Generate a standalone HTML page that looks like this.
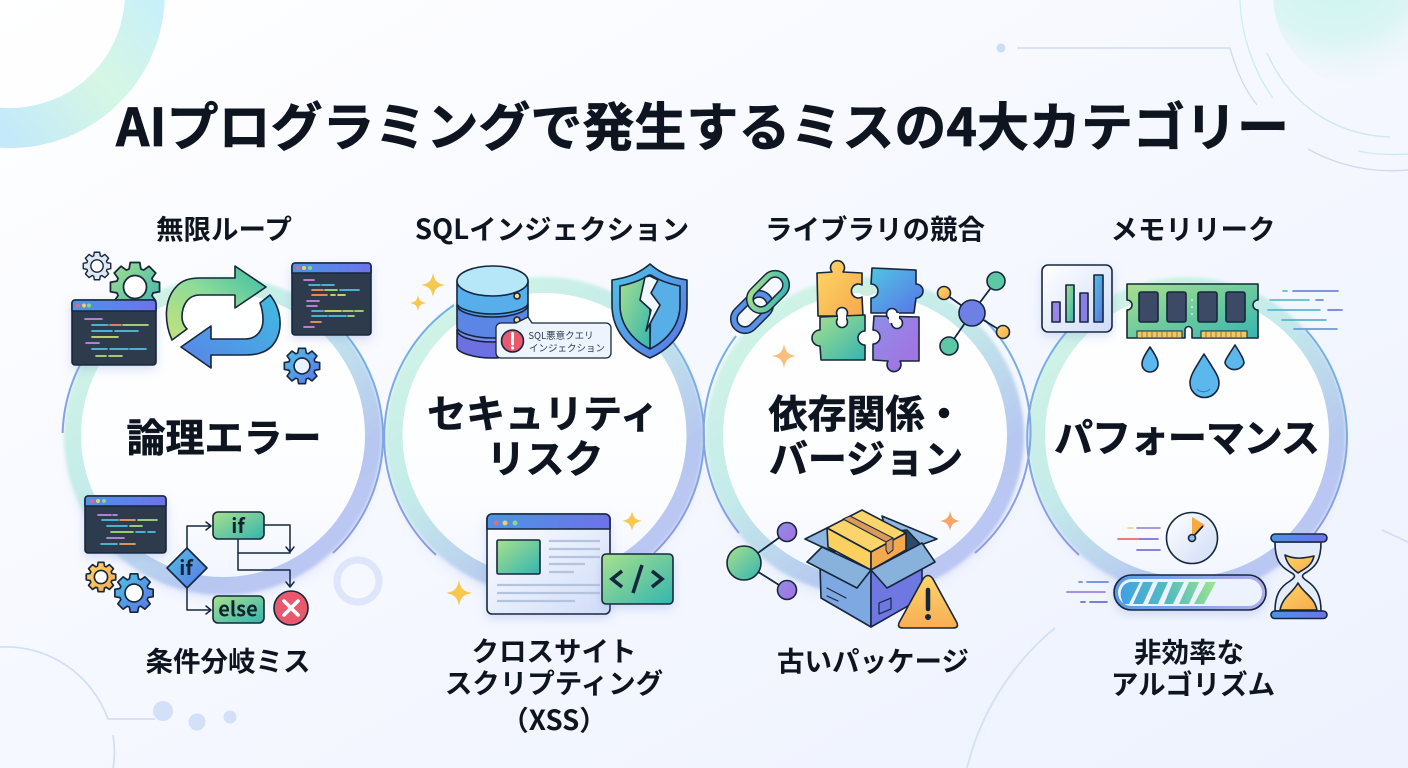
<!DOCTYPE html>
<html lang="ja"><head><meta charset="utf-8"><title>AIプログラミングで発生するミスの4大カテゴリー</title>
<style>
html,body{margin:0;padding:0;background:#f4f7fe}
svg{display:block}
text{font-family:"Noto Sans CJK JP","Liberation Sans",sans-serif;font-weight:700;fill:#0e1520;text-anchor:middle}
.t{font-size:27.5px}.c{font-size:39px;stroke:#0e1520;stroke-width:.6}
.o{stroke:#16263d;stroke-width:1.6;stroke-linejoin:round;stroke-linecap:round}
.l{fill:none;stroke-linecap:round;stroke-width:1.7}
</style></head><body>
<svg width="1408" height="768" viewBox="0 0 1408 768" xmlns="http://www.w3.org/2000/svg">
<defs>
<linearGradient id="bg" x1="0" y1="0" x2="1" y2="1"><stop offset="0" stop-color="#fff"/><stop offset=".4" stop-color="#f7f9ff"/><stop offset="1" stop-color="#edf2fe"/></linearGradient>
<linearGradient id="rg" gradientUnits="userSpaceOnUse" x1="0" y1="130" x2="150" y2="0"><stop offset="0" stop-color="#c3e9fa"/><stop offset=".55" stop-color="#d6f7e4"/><stop offset="1" stop-color="#c8f0f8"/></linearGradient>
<linearGradient id="band" x1="0" y1=".1" x2=".7" y2="1"><stop offset="0" stop-color="#d3f6e4"/><stop offset=".45" stop-color="#c4ebea"/><stop offset=".8" stop-color="#b6c8f0"/><stop offset="1" stop-color="#bcc6f4"/></linearGradient>
<linearGradient id="arcg" x1="0" y1="0" x2="0" y2="1"><stop offset="0" stop-color="#74b3e2"/><stop offset="1" stop-color="#8c9ce0"/></linearGradient>
<linearGradient id="white" x1="0" y1="0" x2="0" y2="1"><stop offset="0" stop-color="#fff"/><stop offset=".7" stop-color="#fcfdff"/><stop offset="1" stop-color="#f2f6ff"/></linearGradient>
<linearGradient id="gt" x1="0" y1="0" x2="1" y2="1"><stop offset="0" stop-color="#a8e08c"/><stop offset="1" stop-color="#35b5b0"/></linearGradient>
<linearGradient id="gb" x1="0" y1="0" x2="1" y2="1"><stop offset="0" stop-color="#4fc5e2"/><stop offset="1" stop-color="#5a72e8"/></linearGradient>
<linearGradient id="gy" x1="0" y1="0" x2="1" y2="1"><stop offset="0" stop-color="#ffd766"/><stop offset="1" stop-color="#f5a94e"/></linearGradient>
<linearGradient id="gyv" x1="0" y1="0" x2="0" y2="1"><stop offset="0" stop-color="#fcd667"/><stop offset="1" stop-color="#f9ad56"/></linearGradient>
<linearGradient id="gp" x1="0" y1="0" x2="1" y2="1"><stop offset="0" stop-color="#8f8ee8"/><stop offset="1" stop-color="#a56ee0"/></linearGradient>
<linearGradient id="bar" x1="0" y1="0" x2="1" y2="0"><stop offset="0" stop-color="#4b95e6"/><stop offset="1" stop-color="#6e72ea"/></linearGradient>
<linearGradient id="frame" x1="0" y1="0" x2="1" y2="0"><stop offset="0" stop-color="#5a9ae6"/><stop offset="1" stop-color="#b0aeea"/></linearGradient>
<linearGradient id="pale" x1="0" y1="0" x2="1" y2="1"><stop offset="0" stop-color="#fff"/><stop offset="1" stop-color="#cfdcf8"/></linearGradient>
<linearGradient id="arrow1" x1="0" y1="1" x2="1" y2="0"><stop offset="0" stop-color="#c5e27c"/><stop offset=".5" stop-color="#8fdc98"/><stop offset="1" stop-color="#3bbca4"/></linearGradient>
<linearGradient id="arrow2" x1="1" y1="0" x2="0" y2="1"><stop offset="0" stop-color="#3fbde0"/><stop offset="1" stop-color="#5a82e8"/></linearGradient>
<linearGradient id="stripe" gradientUnits="userSpaceOnUse" x1="1120" y1="606" x2="1215" y2="581"><stop offset="0" stop-color="#3f9ee6"/><stop offset=".5" stop-color="#52bcc0"/><stop offset="1" stop-color="#a0e48c"/></linearGradient>
<radialGradient id="blob" cx=".35" cy=".3" r=".75"><stop offset="0" stop-color="#c8f5ec"/><stop offset=".6" stop-color="#dbf5f4"/><stop offset="1" stop-color="#f3f6fe" stop-opacity="0"/></radialGradient>
<filter id="b2" x="-20%" y="-20%" width="140%" height="140%"><feGaussianBlur stdDeviation="1.5"/></filter>
<filter id="b8" x="-20%" y="-20%" width="140%" height="140%"><feGaussianBlur stdDeviation="7"/></filter>
<filter id="sh" x="-20%" y="-20%" width="140%" height="150%"><feDropShadow dx="0" dy="4" stdDeviation="5" flood-color="#7d93d8" flood-opacity=".28"/></filter>
<path id="gear" d="M7.23,-2.35 9.82,-1.91 9.82,1.91 7.23,2.35 6.77,3.45 8.29,5.59 5.59,8.29 3.45,6.77 2.35,7.23 1.91,9.82 -1.91,9.82 -2.35,7.23 -3.45,6.77 -5.59,8.29 -8.29,5.59 -6.77,3.45 -7.23,2.35 -9.82,1.91 -9.82,-1.91 -7.23,-2.35 -6.77,-3.45 -8.29,-5.59 -5.59,-8.29 -3.45,-6.77 -2.35,-7.23 -1.91,-9.82 1.91,-9.82 2.35,-7.23 3.45,-6.77 5.59,-8.29 8.29,-5.59 6.77,-3.45Z" stroke="#16263d" stroke-linejoin="round"/>
<path id="spark" d="M0,-10C1.4,-3.2 3.2,-1.4 10,0C3.2,1.4 1.4,3.2 0,10C-1.4,3.2 -3.2,1.4 -10,0C-3.2,-1.4 -1.4,-3.2 0,-10Z"/>
<g id="disc">
<circle cx="0" cy="446" r="150" fill="#aebff0" opacity=".5" filter="url(#b8)"/>
<circle cx="0" cy="436" r="159" fill="url(#band)" filter="url(#b2)"/>
<circle cx="0" cy="435" r="142" fill="url(#white)"/>
</g>
</defs>

<rect width="1408" height="768" fill="url(#bg)"/>

<!-- background decoration -->
<circle cx="10" cy="-7" r="135" fill="none" stroke="url(#rg)" stroke-width="40"/>
<circle cx="1365" cy="-5" r="92" fill="url(#blob)"/>
<g fill="none" stroke-width="1.4">
<path d="M1240,0C1241,35 1254,72 1273,98" stroke="#cfeeee"/>
<path d="M1017,48H1230C1236,70 1245,90 1257,105" stroke="#cfdcf3"/>
<path d="M1267,53C1290,105 1335,135 1390,137" stroke="#cfe8ee"/>
<path d="M1308,149C1340,167 1375,173 1408,170" stroke="#d8d6f3"/>
<path d="M1358,151C1375,155 1392,155 1408,154" stroke="#cfeaf0"/>
<path d="M0,647C50,645 92,675 108,719H155" stroke="#d3dff6" stroke-width="1.8"/>
<path d="M113,735C115,748 115,758 113,768" stroke="#d3dff6" stroke-width="1.8"/>
<path d="M1055,628C1010,665 980,715 967,768" stroke="#d4e0f5" stroke-width="1.8"/>
<path d="M1382,530L1408,542" stroke="#d4e0f5" stroke-width="1.8"/>
</g>
<circle cx="1001" cy="48" r="4.5" fill="#c9dcf8"/>
<g fill="#d3e0f8"><circle cx="163" cy="711" r="10"/><circle cx="197" cy="722" r="8.5"/><circle cx="230" cy="717" r="6.5"/></g>
<circle cx="358" cy="581" r="21" fill="none" stroke="#dde6fb" stroke-width="7"/>

<!-- discs -->
<use href="#disc" x="223"/><use href="#disc" x="544.5"/><use href="#disc" x="865"/><use href="#disc" x="1187"/>
<g fill="none" stroke="url(#arcg)" stroke-width="2">
<path d="M113,321A160,160 0 0 0 62.6,433"/>
<path d="M323,312A160,160 0 0 1 333,553"/>
<path d="M454,305A160,160 0 0 0 436,555"/>
<path d="M663,330A160,160 0 0 1 654,553"/>
<path d="M736,336A160,160 0 0 0 739,533"/>
<path d="M985,320A160,160 0 0 1 975,553"/>
<path d="M1097,305A160,160 0 0 0 1079,555"/>
<path d="M1306,330A160,160 0 0 1 1297,553"/>
</g>

<!-- title -->
<text x="702.500" y="146" font-size="52" textLength="1173" lengthAdjust="spacingAndGlyphs" stroke="#0e1520" stroke-width=".7">AIプログラミングで発生するミスの4大カテゴリー</text>

<!-- labels -->
<text class="t" x="224" y="239">無限ループ</text>
<text class="t" x="552" y="239">SQLインジェクション</text>
<text class="t" x="875" y="239">ライブラリの競合</text>
<text class="t" x="1193" y="239">メモリリーク</text>
<text class="t" x="228" y="671">条件分岐ミス</text>
<text class="t" x="554" y="661">クロスサイト</text>
<text class="t" x="554" y="693">スクリプティング</text>
<text class="t" x="554" y="730">（XSS）</text>
<text class="t" x="873" y="671">古いパッケージ</text>
<text class="t" x="1189" y="662">非効率な</text>
<text class="t" x="1193" y="694">アルゴリズム</text>

<text class="c" x="224" y="452">論理エラー</text>
<text class="c" x="543" y="428">セキュリティ</text>
<text class="c" x="545" y="473">リスク</text>
<text class="c" x="866" y="428">依存関係・</text>
<text class="c" x="866" y="473">バージョン</text>
<text class="c" x="1187" y="452" textLength="266">パフォーマンス</text>

<!-- CIRCLE 1 ICONS -->
<g transform="translate(97,266) scale(1.4)" fill="#dfe7f5" stroke-width="1"><use href="#gear"/><circle r="4.4" fill="#fff" stroke="#16263d"/></g>
<g transform="translate(135,287) scale(2.5)" fill="url(#gt)" stroke-width=".7"><use href="#gear"/><circle r="4.6" fill="#fff" stroke="#16263d"/></g>
<g transform="translate(302,366) scale(1.8)" fill="url(#gb)" stroke-width=".9"><use href="#gear"/><circle r="4.4" fill="#eaf1ff" stroke="#16263d"/></g>
<g transform="translate(101,577) scale(1.5)" fill="url(#gy)" stroke-width="1.1"><use href="#gear"/><circle r="4.4" fill="#fff" stroke="#16263d"/></g>
<g transform="translate(134,593) scale(1.95)" fill="url(#gb)" stroke-width=".85"><use href="#gear"/><circle r="4.6" fill="#fff" stroke="#16263d"/></g>

<!-- window 1 -->
<g filter="url(#sh)"><rect class="o" x="72" y="300" width="84" height="65" rx="3" fill="#2f3a4e"/>
<path d="M72,311V303a3,3 0 0 1 3,-3h78a3,3 0 0 1 3,3V311Z" fill="url(#bar)" class="o" stroke-width="1.2"/></g>
<circle cx="78" cy="305.500" r="2" fill="#e5688a"/><circle cx="84" cy="305.500" r="2" fill="#f2cf5e"/><circle cx="89" cy="305.500" r="2" fill="#84d98a"/>
<g class="l">
<path d="M85,319H102" stroke="#c58be0"/><path d="M92,325H108" stroke="#4fc3e0"/><path d="M110,325H121" stroke="#ef8a6a"/><path d="M123,325H148" stroke="#b4e07a"/>
<path d="M92,331H112M115,331H132M133,331H138" stroke="#4fc3e0"/><path d="M92,337H118" stroke="#cde36a"/><path d="M86,343H99" stroke="#c58be0"/>
<path d="M92,349H102M103,349H107M110,349H128M130,349H146" stroke="#4fc3e0"/><path d="M96,356H106M109,356H122" stroke="#b4e07a"/>
</g>
<!-- window 2 -->
<g filter="url(#sh)"><rect class="o" x="292" y="263" width="79" height="72" rx="3" fill="#2f3a4e"/>
<path d="M292,273V266a3,3 0 0 1 3,-3h73a3,3 0 0 1 3,3V273Z" fill="url(#bar)" class="o" stroke-width="1.2"/></g>
<circle cx="298" cy="268" r="2" fill="#e5688a"/><circle cx="304" cy="268" r="2" fill="#f2cf5e"/><circle cx="310" cy="268" r="2" fill="#84d98a"/>
<g class="l">
<path d="M304,280H314M307,301H319M307,306H317M304,327H314" stroke="#c58be0"/>
<path d="M309,285H320M322,285H334M340,290H359M312,311H323M312,316H327M329,316H346" stroke="#4fc3e0"/>
<path d="M312,290H323M312,295H327M311,322H321" stroke="#ef9a5a"/>
<path d="M325,290H337M348,316H354M343,311H353M355,311H363" stroke="#a8e07a"/>
<path d="M331,295H335M338,295H345M325,311H341" stroke="#dde36a"/>
</g>
<!-- window 3 -->
<g filter="url(#sh)"><rect class="o" x="85" y="496" width="81" height="57" rx="3" fill="#2f3a4e"/>
<path d="M85,506V499a3,3 0 0 1 3,-3h75a3,3 0 0 1 3,3V506Z" fill="url(#bar)" class="o" stroke-width="1.2"/></g>
<circle cx="92" cy="501" r="2" fill="#e5688a"/><circle cx="98" cy="501" r="2" fill="#f2cf5e"/><circle cx="104" cy="501" r="2" fill="#84d98a"/>
<g class="l">
<path d="M98,515H111M113,515H117M107,538H124" stroke="#c58be0"/>
<path d="M102,520H118M107,526H127M136,532H145M148,532H155M101,544H117" stroke="#4fc3e0"/>
<path d="M120,520H135M120,544H135" stroke="#efa45a"/>
<path d="M138,520H157M130,526H142M111,532H133" stroke="#a8e07a"/>
</g>

<!-- loop arrows -->
<path class="o" stroke-width="2" fill="url(#arrow1)" d="M172,340C164,322 164,300 176,287C182,280 190,278 200,278L235,278L235,266L266,287L235,308L235,295L200,295C188,295 182,305 182,317C182,322 184,326 187,329Z"/>
<path class="o" stroke-width="2" fill="url(#arrow2)" d="M270,295C282,310 284,332 272,346C265,353 256,355 245,355L211,355L211,368L181,347L211,326L211,339L245,339C257,339 263,330 263,320C263,314 262,308 260,303Z"/>

<!-- flowchart -->
<g fill="none" stroke="#16263d" stroke-width="1.5" stroke-linejoin="round" stroke-linecap="round">
<path d="M187,548V526H211M206,522L211,526L206,530"/>
<path d="M187,588V610H211M206,606L211,610L206,614"/>
<path d="M264,525H290V552M286,547L290,552L294,547"/>
<path d="M238,539V570H290V587M286,582L290,587L294,582"/>
<path d="M238,553H290"/>
</g>
<rect class="o" x="213" y="512" width="51" height="27" rx="5" fill="url(#gt)"/>
<rect class="o" x="213" y="596" width="51" height="27" rx="5" fill="url(#gt)"/>
<path class="o" d="M187,548L207,568L187,588L167,568Z" fill="url(#gb)"/>
<text x="238" y="533" font-size="20" style="fill:#123">if</text>
<text x="238" y="616" font-size="20" style="fill:#123">else</text>
<text x="186" y="575" font-size="20" style="fill:#123">if</text>
<circle class="o" cx="291" cy="608" r="17" fill="#e8596e"/>
<path d="M284,601L298,615M298,601L284,615" stroke="#fff" stroke-width="3.6" stroke-linecap="round"/>

<!-- CIRCLE 2 ICONS -->
<g fill="#f8c84e"><use href="#spark" transform="translate(433,285) scale(1.2)"/><use href="#spark" transform="translate(418,303) scale(.8)"/><use href="#spark" transform="translate(459,593) scale(1.3)"/><use href="#spark" transform="translate(632,521) scale(1)"/></g>
<g class="o">
<path d="M457,330V347C457,353 475,358 492,358C510,358 528,353 528,347V330Z" fill="#6d70e0"/>
<ellipse cx="492.500" cy="330" rx="35.500" ry="12" fill="#7d8ee8"/>
<path d="M457,305V327C457,333 475,338 492,338C510,338 528,333 528,327V305Z" fill="#5b86e6"/>
<ellipse cx="492.500" cy="305" rx="35.500" ry="12" fill="#4f9ee8"/>
<path d="M457,281V303C457,309 475,314 492,314C510,314 528,309 528,303V281Z" fill="#58aeea"/>
<ellipse cx="492.500" cy="281" rx="35.500" ry="15" fill="#b6e7f8"/>
<circle cx="517" cy="296" r="3" fill="#f2df8a"/><circle cx="517" cy="320" r="3" fill="#f2df8a"/>
<path d="M503,323H516L528,317L532,323H606a5,5 0 0 1 5,5V353a5,5 0 0 1 -5,5H501a5,5 0 0 1 -5,-5V328a5,5 0 0 1 5,-5Z" fill="#eef4fe" stroke-width="1.3"/>
<circle cx="512.500" cy="341" r="11" fill="#e8596e"/>
</g>
<path d="M512.500,333.500V344" stroke="#fff" stroke-width="3" stroke-linecap="round"/><circle cx="512.500" cy="348" r="1.600" fill="#fff"/>
<text x="561" y="339" font-size="9.500" style="fill:#2a3a50;font-weight:400">SQL悪意クエリ</text>
<text x="567" y="351.500" font-size="9.500" style="fill:#2a3a50;font-weight:400">インジェクション</text>

<path class="o" d="M650,264C637,275 625,278 612,280L612,305C612,330 628,348 650,358C672,348 687,330 687,305L687,280C675,278 662,275 650,264Z" fill="url(#gb)"/>
<path class="o" d="M649,275C640,281 630,284 620,286L620,305C620,324 632,340 650,349L650,275Z" fill="url(#gt)"/>
<path class="o" d="M651,275C660,281 670,284 680,286L680,305C680,324 668,340 650,349L651,275Z" fill="#58aee6"/>
<path d="M645,277L640,300L651,310L646,331L660,305L651,293L658,280L650,276Z" fill="#f0f7ff" class="o" stroke-width="1.300"/>

<g filter="url(#sh)"><rect class="o" x="487" y="514" width="123" height="100" rx="5" fill="url(#pale)"/></g>
<path class="o" d="M487,529V519a5,5 0 0 1 5,-5H605a5,5 0 0 1 5,5V529Z" fill="url(#bar)"/>
<circle cx="496" cy="523" r="2.500" fill="#e5688a"/><circle cx="505" cy="523" r="2.500" fill="#f2cf5e"/><circle cx="515" cy="523" r="2.500" fill="#84d98a"/>
<rect class="o" x="497" y="540" width="43" height="34" rx="1.500" fill="url(#gt)"/>
<path d="M549,541H600M549,549H600M549,557H600M549,564H585M549,572H574M497,585H600M497,593H600M497,601H575" stroke="#b4c4de" stroke-width="2.200" fill="none"/>
<g filter="url(#sh)"><rect class="o" x="602" y="554" width="71" height="50" rx="4" fill="url(#gt)"/></g>
<path d="M622,571L612,579L622,587M652,571L662,579L652,587M642,565L633,593" fill="none" stroke="#16263d" stroke-width="3.600"/>

<!-- CIRCLE 3 ICONS -->
<g transform="rotate(-45 752 312)" fill="none"><rect x="731" y="301" width="42" height="22" rx="11" stroke="#16263d" stroke-width="8"/><rect x="731" y="301" width="42" height="22" rx="11" stroke="#5a90e6" stroke-width="5"/></g>
<g transform="rotate(-45 768 292)" fill="none"><rect x="747" y="281" width="42" height="22" rx="11" stroke="#16263d" stroke-width="8"/><rect x="747" y="281" width="42" height="22" rx="11" stroke="url(#gt)" stroke-width="5"/></g>

<path class="o" d="M872,268L916,270L916,284A7,7 0 1 1 916,298L914,313L871,313L871,298A7,7 0 1 0 871,284Z" fill="url(#gb)"/>
<path class="o" d="M817,273L832,272A7,7 0 1 1 843,272L862,273L862,285A7,7 0 1 0 862,297L863,316L818,316Z" fill="url(#gy)"/>
<path class="o" d="M820,317L865,315L865,331A7,7 0 1 0 865,345L865,360L821,360L820,346A7,7 0 1 1 820,330Z" fill="url(#gt)"/>
<path class="o" d="M874,316L919,317L919,361L900,361A7,7 0 1 1 888,361L873,360L873,344A7,7 0 1 0 873,330Z" fill="url(#gp)"/>
<ellipse cx="867" cy="291" rx="8" ry="5" fill="#cdeee0"/>
<circle cx="842" cy="313" r="5.500" fill="#fff" class="o"/><circle cx="842" cy="322" r="5.500" fill="#fff" class="o"/><rect x="838" y="312" width="8" height="11" fill="#fff"/>
<circle cx="892" cy="314" r="5.500" fill="#fff" class="o"/><circle cx="897" cy="323" r="5.500" fill="#fff" class="o"/><rect x="889" y="313" width="10" height="10" fill="#fff"/>
<use href="#spark" transform="translate(784,356) scale(1.2)" fill="#f8c07a"/>
<use href="#spark" transform="translate(950,521) scale(1)" fill="#f6a569"/>

<g stroke="#16263d" stroke-width="1.800"><path d="M972,313L996,281M972,313L944,293M972,313L1003,332M972,313L949,346"/></g>
<circle class="o" cx="972" cy="313" r="13" style="fill:#6f80e4"/>
<circle class="o" cx="996" cy="281" r="9" fill="#5cc8a4"/>
<circle class="o" cx="949" cy="346" r="9" fill="#5cc8a4"/>
<circle class="o" cx="944" cy="293" r="6.500" fill="url(#gy)"/>
<circle class="o" cx="1003" cy="332" r="6.500" fill="url(#gy)"/>

<path d="M744,563L787,532M744,563L787,590" stroke="#16263d" stroke-width="1.800"/>
<circle class="o" cx="744" cy="563" r="17" fill="url(#gt)"/>
<circle class="o" cx="787" cy="532" r="9.500" fill="url(#gp)"/>
<circle class="o" cx="787" cy="590" r="9.500" fill="url(#gp)"/>

<!-- box -->
<g class="o">
<path d="M805,539L827,528L835,552L820,546Z" fill="#8fb6e0"/>
<path d="M882,516L937,539L918,546L885,527Z" fill="#8fb6e0"/>
<path d="M860,535L907,530L922,546L871,572Z" fill="#2e4a66"/>
<path d="M827,528L862,510L906,533L871,552Z" fill="#fbd46b"/>
<path d="M827,528L871,552V570L828,547Z" fill="#fbd05e"/>
<path d="M871,552L906,533V550L871,570Z" fill="#f5a94e"/>
<path d="M843,519L850,516L893,538L886,542Z" fill="#d89a5c" stroke-width="1"/>
<path d="M886,542L893,538V550L888,554L886,550Z" fill="#d89a5c" stroke-width="1"/>
<path d="M820,565L871,570V627L821,598Z" fill="#7ea8e2"/>
<path d="M871,570L922,560V598L871,627Z" fill="#6f78e0"/>
<path d="M822,547L807,562L857,588L871,570Z" fill="#88b2dc"/>
<path d="M871,570L887,588L935,562L922,543Z" fill="#88b2dc"/>
<path d="M827,588L846,598M827,596L838,601" fill="none" stroke-width="1.200"/>
<path d="M879,603L891,598V609L879,614Z" fill="none" stroke-width="1.200"/>
</g>
<path class="o" d="M923,579Q928,572 933,579L956,621Q960,628 953,628H903Q896,628 900,621Z" fill="url(#gyv)" stroke-width="1.800"/>
<path d="M928,590V609" stroke="#16263d" stroke-width="4.500" stroke-linecap="round"/><circle cx="928" cy="617" r="3" fill="#16263d"/>

<!-- CIRCLE 4 ICONS -->
<g filter="url(#sh)"><rect class="o" x="1042" y="265" width="70" height="67" rx="6" fill="url(#pale)"/></g>
<rect class="o" x="1052" y="302" width="8" height="20" fill="#9a86e6"/>
<rect class="o" x="1066" y="285" width="8" height="37" fill="url(#gt)"/>
<rect class="o" x="1080" y="293" width="8" height="29" fill="#8c7fe4"/>
<rect class="o" x="1094" y="275" width="9" height="47" fill="url(#gb)"/>

<path class="o" d="M1127,284H1258V300A5,5 0 0 0 1258,310V338H1192V330A3.500,3.500 0 0 0 1185,330V338H1127V310A5,5 0 0 0 1127,300Z" fill="url(#gt)"/>
<g class="o" fill="#3d4a66" stroke-width="1.300"><rect x="1139" y="292" width="19" height="30" rx="2"/><rect x="1167" y="292" width="19" height="30" rx="2"/><rect x="1198" y="292" width="19" height="30" rx="2"/><rect x="1226" y="292" width="19" height="30" rx="2"/></g>
<rect x="1137" y="331" width="45" height="7" fill="#f0c866" stroke="#16263d" stroke-width="1"/>
<rect x="1201" y="331" width="46" height="7" fill="#f0c866" stroke="#16263d" stroke-width="1"/>
<path d="M1142,331v7M1147,331v7M1152,331v7M1157,331v7M1162,331v7M1167,331v7M1172,331v7M1177,331v7M1206,331v7M1211,331v7M1216,331v7M1221,331v7M1226,331v7M1231,331v7M1236,331v7M1241,331v7" stroke="#7d6a34" stroke-width=".8"/>
<circle cx="1192" cy="300" r="1" fill="#cdeee0"/><circle cx="1192" cy="307" r="1" fill="#cdeee0"/><circle cx="1192" cy="314" r="1" fill="#cdeee0"/>

<g class="o" fill="#5cb8ec">
<path d="M1150,347C1144,356 1142,360 1142,364A8,8 0 0 0 1158,364C1158,360 1156,356 1150,347Z"/>
<path d="M1204,354C1194,370 1190,376 1190,383A14.500,14.500 0 0 0 1219,383C1219,376 1214,370 1204,354Z"/>
<path d="M1235,345C1228,356 1225,360 1225,363A10,9.500 0 0 0 1244,363C1244,360 1242,356 1235,345Z"/>
</g>
<path d="M1210,389A9,9 0 0 1 1197,389" stroke="#2e80c8" stroke-width="1.200" fill="none"/>

<g stroke-linecap="round" stroke-width="1.700" fill="none">
<path d="M1283,291H1287" stroke="#5cc0d0"/><path d="M1293,291H1338" stroke="#6f88d8"/>
<path d="M1270,300H1309" stroke="#5cc0c8"/><path d="M1316,300H1323" stroke="#6a90d8"/>
<path d="M1268,310H1320" stroke="#5cb4d0"/><path d="M1328,310H1342" stroke="#7a7cd8"/>
<path d="M1282,320H1326" stroke="#5cb4c8"/><path d="M1294,329H1337" stroke="#6f9ad8"/>
<path d="M1128,528H1133" stroke="#f2d484"/><path d="M1137,528H1160" stroke="#9a8ed8"/>
<path d="M1118,539H1140" stroke="#ee6a6a"/><path d="M1140,539H1158" stroke="#7c70d0"/>
<path d="M1137,550H1160" stroke="#7c70d0"/>
<path d="M1079,582H1082M1087,582H1108" stroke="#6c8cd8"/>
<path d="M1067,592H1105" stroke="#9484dc"/>
<path d="M1081,602H1085M1090,602H1107" stroke="#6c6cd0"/>
</g>

<circle class="o" cx="1192" cy="538" r="25.500" fill="url(#pale)"/>
<path d="M1192,517L1205,525L1192,538Z" fill="#f8a93e"/>
<path d="M1192,538L1203,526" stroke="#16263d" stroke-width="1.800"/>
<circle class="o" cx="1192" cy="538" r="3.500" fill="#9bb8e0"/>

<g filter="url(#sh)"><rect class="o" x="1114" y="575" width="152" height="35" rx="17.500" fill="url(#frame)" stroke-width="1.800"/></g>
<rect x="1118" y="579" width="144" height="27" rx="13.500" fill="#edf3fe"/>
<g fill="url(#stripe)">
<path d="M1140,582L1129,604H1124C1118,596 1120,584 1130,582Z"/>
<path d="M1143,582H1153L1143,604H1133Z"/>
<path d="M1158,582H1168L1158,604H1148Z"/>
<path d="M1173,582H1184L1173,604H1164Z"/>
<path d="M1189,582H1199L1189,604H1179Z"/>
<path d="M1206,582H1216L1204,604H1194Z"/>
</g>

<path class="o" d="M1275,542C1275,560 1280,566 1290,572C1296,575 1296,577 1290,581C1280,587 1275,595 1275,611H1321C1321,595 1316,587 1307,581C1301,577 1301,575 1307,572C1316,566 1321,560 1321,542Z" fill="#e4ecfc"/>
<path d="M1285,555C1295,560 1305,558 1314,556C1312,566 1304,569 1298,573C1293,569 1287,565 1285,555Z" fill="url(#gy)" class="o" stroke-width="1"/>
<path d="M1280,610C1283,596 1292,594 1298,583C1304,594 1314,596 1317,610Z" fill="url(#gy)" class="o" stroke-width="1"/>
<rect class="o" x="1271" y="534" width="56" height="8" rx="4" fill="url(#bar)"/>
<rect class="o" x="1271" y="611" width="56" height="7.500" rx="3.700" fill="url(#bar)"/>
</svg>
</body></html>
